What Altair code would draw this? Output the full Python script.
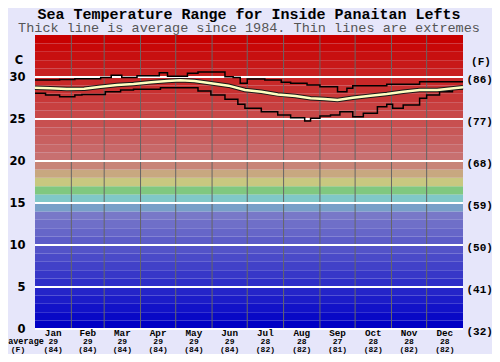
import altair as alt
import pandas as pd

W, H = 428, 294

# ---- data ----
band_colors = [
    '#0000c4', '#0909c6', '#1212c8', '#1c1cc8', '#2525c8', '#2e2ec8', '#3737c8',
    '#4141c8', '#4a4ac8', '#5353c8', '#5c5cc8', '#6666c8', '#6f6fc8', '#7878c8',
    '#78a0c8', '#80c8c8', '#80c880', '#c8c880', '#c8a880', '#c88478',
    '#c87070', '#c86868', '#c86060', '#c85858', '#c85050', '#c84848', '#c84040',
    '#c83838', '#c83030', '#c82828', '#c82020', '#c81818', '#c81010', '#c80808',
    '#c80000']
band_lo = list(range(35))
grid_c = [0, 5, 10, 15, 20, 25, 30]

month_names = ['Jan', 'Feb', 'Mar', 'Apr', 'May', 'Jun',
               'Jul', 'Aug', 'Sep', 'Oct', 'Nov', 'Dec']
month_start = [0, 31, 59, 90, 120, 151, 181, 212, 243, 273, 304, 334]
month_end = [31, 59, 90, 120, 151, 181, 212, 243, 273, 304, 334, 365]
avg_c = [29, 29, 29, 29, 29, 29, 28, 28, 27, 28, 28, 28]
avg_f = [84, 84, 84, 84, 84, 84, 82, 82, 81, 82, 82, 82]

max_day = [0, 21, 34, 51, 56, 65, 74, 87, 106, 113, 130, 139, 162, 169, 175,
           181, 196, 210, 218, 232, 243, 258, 266, 271, 300, 328, 365]
max_val = [29.64, 29.7, 29.8, 29.8, 29.95, 30.2, 29.95, 30.15, 30.5, 30.1, 30.44,
           30.6, 30.04, 29.95, 29.25, 29.76, 29.64, 29.37, 29.25, 29.05, 28.85,
           28.25, 28.65, 28.97, 29.13, 29.44, 29.44]

avg_day = [0, 13, 27, 42, 56, 70, 84, 99, 113, 124, 136, 150, 165, 179, 193,
           207, 222, 235, 247, 258, 271, 286, 300, 314, 328, 343, 357, 365]
avg_val = [28.73, 28.65, 28.57, 28.6, 28.85, 29.05, 29.17, 29.37, 29.52, 29.6,
           29.52, 29.25, 28.97, 28.45, 28.25, 27.93, 27.73, 27.46, 27.38, 27.26,
           27.54, 27.78, 27.97, 28.25, 28.45, 28.45, 28.65, 28.77]

min_day = [0, 9, 21, 34, 40, 60, 73, 84, 107, 139, 150, 162, 173, 179, 193, 207,
           218, 230, 235, 243, 252, 260, 271, 280, 292, 300, 305, 314, 328, 334,
           345, 356, 365]
min_val = [28.06, 27.86, 27.66, 27.86, 27.93, 28.25, 28.45, 28.53, 28.73, 28.33,
           27.86, 27.34, 26.75, 26.27, 25.87, 25.48, 25.16, 24.76, 25.08, 25.36,
           25.48, 25.87, 25.28, 25.68, 26.47, 26.75, 26.27, 26.67, 27.46, 27.86,
           28.25, 28.57, 28.57]

title_text = 'Sea Temperature Range for Inside Panaitan Lefts'
subtitle_text = 'Thick line is average since 1984. Thin lines are extremes'

# ---- tables ----
bands_df = pd.DataFrame({'lo': band_lo, 'hi': [v + 1 for v in band_lo], 'col': band_colors})
grid_df = pd.DataFrame({'c': grid_c})
months_df = pd.DataFrame({
    'name': month_names,
    'start': month_start,
    'mid': [(a + b) / 2 for a, b in zip(month_start, month_end)],
    'c': [str(v) for v in avg_c],
    'f': ['(%d)' % v for v in avg_f],
})
bounds_df = pd.DataFrame({'b': month_start[1:]})
max_df = pd.DataFrame({'day': max_day, 't': max_val})
avg_df = pd.DataFrame({'day': avg_day, 't': avg_val})
min_df = pd.DataFrame({'day': min_day, 't': min_val})

xs = alt.Scale(domain=[0, 365], nice=False, zero=False)
ys = alt.Scale(domain=[0, 35], nice=False, zero=True)

left_axis = alt.Axis(orient='left', values=grid_c, title=None, ticks=False, domain=False,
                     grid=False, labelFont='DejaVu Sans', labelFontWeight='bold',
                     labelFontSize=11.5, labelColor='black', labelPadding=10)
right_axis = alt.Axis(orient='right', values=grid_c, title=None, ticks=False, domain=False,
                      grid=False, labelFont='Liberation Mono', labelFontWeight='bold',
                      labelFontSize=11, labelColor='black', labelPadding=3, labelOffset=2,
                      labelExpr="'(' + format(datum.value * 9 / 5 + 32, 'd') + ')'")

bands = alt.Chart(bands_df).mark_rect().encode(
    x=alt.value(0), x2=alt.value(W),
    y=alt.Y('lo:Q', scale=ys, axis=left_axis), y2='hi:Q',
    color=alt.Color('col:N', scale=None))

vlines = alt.Chart(bounds_df).mark_rule(color='#666666', strokeWidth=1).encode(
    x=alt.X('b:Q', scale=xs, axis=None), y=alt.value(0), y2=alt.value(H))

hlines = alt.Chart(grid_df).mark_rule(color='white', strokeWidth=2).encode(
    y=alt.Y('c:Q', scale=ys, axis=right_axis), x=alt.value(0), x2=alt.value(W))

def line(df, **kw):
    return alt.Chart(df).mark_line(**kw).encode(
        x=alt.X('day:Q', scale=xs, axis=None),
        y=alt.Y('t:Q', scale=ys, axis=None))

max_line = line(max_df, color='black', strokeWidth=1.5, interpolate='step-after')
min_line = line(min_df, color='black', strokeWidth=1.5, interpolate='step-after')
avg_under = line(avg_df, color='#1a1a1a', strokeWidth=4.5)
avg_top = line(avg_df, color='#ffffc0', strokeWidth=2.5)

def mtext(field, y, size, weight):
    return alt.Chart(months_df).mark_text(
        font='Liberation Mono', fontSize=size, fontWeight=weight, color='black',
        baseline='alphabetic', align='center').encode(
        x=alt.X('mid:Q', scale=xs, axis=None), y=alt.value(y), text=field + ':N')

mon = mtext('name', 300.5, 9.3, 'bold')
crow = mtext('c', 308.7, 8, 'bold')
frow = mtext('f', 316.7, 8, 'bold')

side_df = pd.DataFrame({'t': ['average', '(F)']})
avg_lbl = alt.Chart(side_df.iloc[[0]]).mark_text(
    font='Liberation Mono', fontSize=8.5, fontWeight='bold', baseline='alphabetic',
    color='black').encode(x=alt.value(-9), y=alt.value(308.7), text='t:N')
f_lbl = alt.Chart(side_df.iloc[[1]]).mark_text(
    font='Liberation Mono', fontSize=8, fontWeight='bold', baseline='alphabetic',
    color='black').encode(x=alt.value(-17), y=alt.value(316.7), text='t:N')

unit_df = pd.DataFrame({'t': ['C', '(F)']})
c_lbl = alt.Chart(unit_df.iloc[[0]]).mark_text(
    font='DejaVu Sans', fontSize=11.5, fontWeight='bold', baseline='middle',
    color='black').encode(x=alt.value(-16), y=alt.value(25.5), text='t:N')
fr_lbl = alt.Chart(unit_df.iloc[[1]]).mark_text(
    font='Liberation Mono', fontSize=11, fontWeight='bold', baseline='middle',
    color='black').encode(x=alt.value(446), y=alt.value(27), text='t:N')

tdf = pd.DataFrame({'t': [title_text, subtitle_text]})
title = alt.Chart(tdf.iloc[[0]]).mark_text(
    font='Liberation Mono', fontSize=15, fontWeight='bold', baseline='alphabetic',
    color='black').encode(x=alt.value(W / 2), y=alt.value(-16), text='t:N')
subtitle = alt.Chart(tdf.iloc[[1]]).mark_text(
    font='Liberation Mono', fontSize=13.5, baseline='alphabetic',
    color='#555555').encode(x=alt.value(W / 2), y=alt.value(-3), text='t:N')

chart = alt.layer(
    bands, vlines, hlines, max_line, min_line, avg_under, avg_top,
    mon, crow, frow, avg_lbl, f_lbl, c_lbl, fr_lbl, title, subtitle
).resolve_axis(y='independent').properties(
    width=W, height=H,
    autosize=alt.AutoSizeParams(type='none'),
    padding={'left': 27, 'top': 27, 'right': 29, 'bottom': 25},
    background='#e6e6fa',
).configure_view(strokeWidth=0)

chart.save('out.html', embed_options={'renderer': 'svg', 'actions': False})
